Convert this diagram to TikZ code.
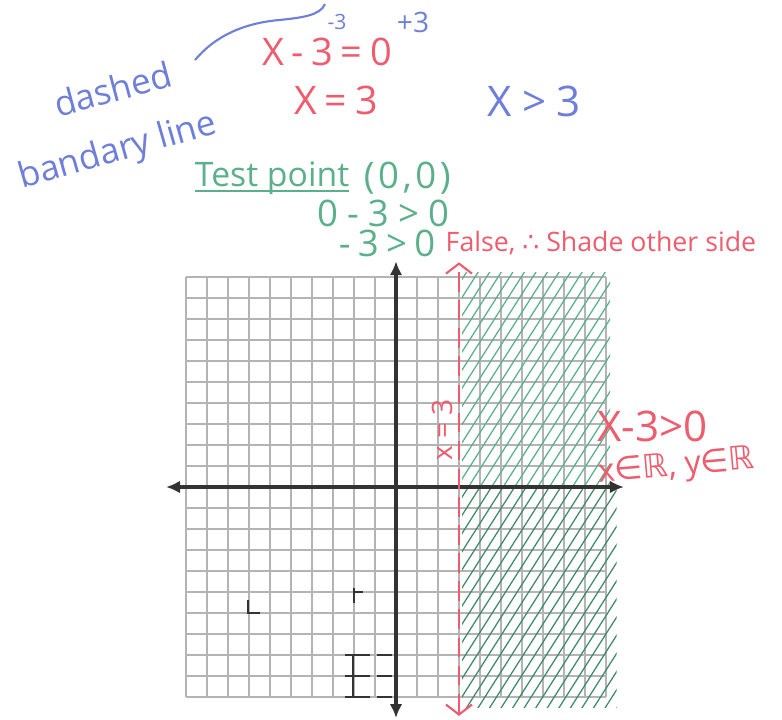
\documentclass[tikz,border=0pt]{standalone}
\usepackage{fontspec}
\setmainfont{Open Sans}
\newfontfamily\symfont{DejaVu Sans}
\usetikzlibrary{arrows.meta, positioning}
\definecolor{inkblue}{HTML}{6E7EDB}
\definecolor{inkred}{HTML}{EE5C6E}
\definecolor{inkgreen}{HTML}{5BB08B}
\definecolor{inkdkgreen}{HTML}{3F8A68}
\definecolor{gridgray}{HTML}{B4B4B4}
\definecolor{axisgray}{HTML}{333333}

\begin{document}
\begin{tikzpicture}[x=0.525cm, y=0.525cm,
    gridline/.style={draw=gridgray, line width=1.4pt},
    axis/.style={draw=axisgray, line width=2.6pt, {Latex[length=3.5mm,width=3.2mm]}-{Latex[length=3.5mm,width=3.2mm]}},
    boundary/.style={draw=inkred, line width=1.5pt, dash pattern=on 14pt off 6pt, {Straight Barb[length=2.5mm,width=6.5mm]}-{Straight Barb[length=2.5mm,width=6.5mm]}},
    hatch/.style={line width=0.9pt},
    pencil/.style={draw=axisgray, line width=1.3pt},
    note/.style={inner sep=0pt},
    bluenote/.style={note, text=inkblue},
    rednote/.style={note, text=inkred},
    greennote/.style={note, text=inkgreen},
  ]
  \useasboundingbox (-18.857,-11.048) rectangle (18.381,23.190);

  % Grid paper
  \foreach \k in {-10,...,10} {
    \draw[gridline] (\k,-10) -- (\k,10);
    \draw[gridline] (-10,\k) -- (10,\k);
  }

  % Shaded side x > 3
  \begin{scope}
    \clip (3.15,0) rectangle (10.2,10.2);
    \foreach \a in {-14,-13.45,...,10.4}
      \draw[hatch, inkgreen] (\a,-11) -- ++(14,22);
  \end{scope}
  \begin{scope}
    \clip (3.15,-10.5) rectangle (10.5,0);
    \foreach \a in {-14,-13.45,...,10.4}
      \draw[hatch, inkdkgreen] (\a,-11) -- ++(14,22);
  \end{scope}

  % Pencil marks
  \draw[pencil] (-7.05,-5.38) -- (-7.05,-6) -- (-6.48,-6);
  \draw[pencil] (-2,-4.81) -- (-2,-5.52);
  \draw[pencil] (-2,-5) -- (-1.57,-5);
  \draw[pencil] (-2.05,-8) -- (-2.05,-10);
  \foreach \y in {-8,-9,-10} {
    \draw[pencil] (-2.43,\y) -- (-1.24,\y);
    \draw[pencil] (-0.9,\y) -- (-0.19,\y);
  }

  % Axes
  \draw[axis] (-10.95,0) -- (10.85,0);
  \draw[axis] (0,-11) -- (0,10.75);

  % Boundary line x = 3
  \draw[boundary] (3,-10.9) -- (3,10.7);
  \node[rednote, font={\fontsize{20}{20}\selectfont\addfontfeature{LetterSpace=25}}, rotate=90] (lineeq) at (2.19,2.71) {x=3};

  % Working at the top
  \node[bluenote, font={\fontsize{15}{15}\selectfont}] (minusthree) at (-2.81,22.14) {-3};
  \node[bluenote, font={\fontsize{20}{20}\selectfont}] (plusthree) at (0.81,22.1) {+3};
  \node[rednote, font={\fontsize{27}{30}\selectfont\addfontfeature{LetterSpace=20}}] (eqzero) at (-3.29,20.71) {X-3=0};
  \node[rednote, font={\fontsize{28}{30}\selectfont\addfontfeature{LetterSpace=20}}] (xeq) at (-2.86,18.43) {X=3};
  \node[bluenote, font={\fontsize{30}{32}\selectfont\addfontfeature{LetterSpace=25}}] (xgt) at (6.57,18.38) {X>3};

  \node[bluenote, font={\fontsize{25}{27}\selectfont}, rotate=15] (dashed) at (-13.48,18.95) {dashed};
  \node[bluenote, font={\fontsize{25}{27}\selectfont}, rotate=16] (bline) at (-13.24,15.95) {bandary line};
  \coordinate (curvestart) at (-9.57,20.33);
  \coordinate (curveend) at (-3.38,23.0);
  \draw[inkblue, line width=1.5pt] (curvestart) .. controls (-8.6,21.5) and (-7.2,22.1) .. (-5.52,22.24)
    .. controls (-4.5,22.35) and (-3.6,22.45) .. (curveend);

  % Test point
  \node[greennote, font={\fontsize{24}{26}\selectfont}, anchor=base] (testpt) at (-5.9,14.29) {Test point};
  \draw[inkgreen, line width=1.3pt] ([yshift=-0.1cm]testpt.base west) -- ([yshift=-0.1cm]testpt.base east);
  \node[greennote, font={\fontsize{26}{28}\selectfont\addfontfeature{LetterSpace=10}}, right=0.35cm of testpt] (origin) {(0,0)};
  \node[greennote, font={\fontsize{26}{28}\selectfont\addfontfeature{LetterSpace=25}}] (subst) at (-0.62,13.05) {0-3>0};
  \node[greennote, font={\fontsize{26}{28}\selectfont\addfontfeature{LetterSpace=20}}] (result) at (-0.43,11.62) {-3>0};
  \node[rednote, font={\fontsize{19}{21}\selectfont}, right=0.25cm of result] (verdict) {False, {\symfont ∴} Shade other side};

  % Solution set
  \node[rednote, font={\fontsize{30}{32}\selectfont}, anchor=west] (ineq) at (9.57,2.9) {X-3>0};
  \node[rednote, font={\fontsize{23}{25}\selectfont}, anchor=west, rotate=5] (domain) at (9.62,0.6) {x{\symfont ∈ℝ}, y{\symfont ∈ℝ}};
\end{tikzpicture}
\end{document}
